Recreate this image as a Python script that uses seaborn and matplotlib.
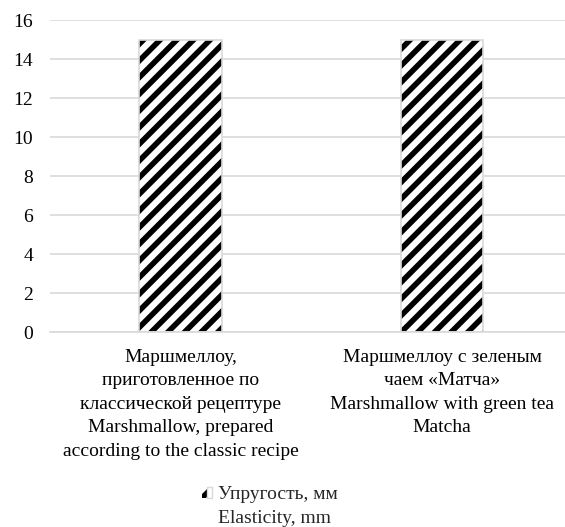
import matplotlib
matplotlib.use("Agg")
import matplotlib.pyplot as plt
from matplotlib.patches import Patch
from matplotlib.legend_handler import HandlerTuple
import seaborn as sns
import pandas as pd

# Data
categories = [
    "Маршмеллоу,\nприготовленное по\nклассической рецептуре\nMarshmallow, prepared\naccording to the classic recipe",
    "Маршмеллоу с зеленым\nчаем «Матча»\nMarshmallow with green tea\nMatcha",
]
elasticity_mm = [15, 15]
series_label = ["Упругость, мм", "Elasticity, mm"]
y_ticks = [0, 2, 4, 6, 8, 10, 12, 14, 16]

df = pd.DataFrame({"category": categories, "value": elasticity_mm})

sns.set_theme(style="white")
plt.rcParams["font.family"] = ["Liberation Serif", "DejaVu Serif"]
plt.rcParams["hatch.linewidth"] = 4.0

FS = 14
GRID = "#d9d9d9"

fig = plt.figure(figsize=(5.65, 5.27), dpi=100)
ax = fig.add_axes([0.0881, 0.370, 0.9257, 0.592])

# hatched fill
sns.barplot(data=df, x="category", y="value", ax=ax, color="white",
            edgecolor="black", linewidth=0, hatch="//", width=0.314,
            errorbar=None, zorder=2)
# light outline around each bar
sns.barplot(data=df, x="category", y="value", ax=ax, fill=False,
            edgecolor=GRID, linewidth=1.2, width=0.314,
            errorbar=None, zorder=3)

ax.set_xlim(-0.5, 1.5)
ax.set_ylim(0, 16)
ax.set_yticks(y_ticks)
ax.yaxis.grid(True, color=GRID, linewidth=1.2, zorder=0)
ax.set_axisbelow(True)
for side in ["left", "right", "top"]:
    ax.spines[side].set_visible(False)
ax.spines["bottom"].set_color(GRID)
ax.spines["bottom"].set_linewidth(1.2)
ax.set_xlabel("")
ax.set_ylabel("")
ax.tick_params(axis="y", length=0, pad=12, labelsize=FS, labelcolor="black")
ax.tick_params(axis="x", length=0, pad=12, labelsize=FS, labelcolor="black")
for lbl in ax.get_xticklabels():
    lbl.set_linespacing(1.5)
    lbl.set_ha("center")

# legend
fill_h = Patch(facecolor="white", edgecolor="black", hatch="//", linewidth=0)
edge_h = Patch(facecolor="none", edgecolor=GRID, linewidth=1.0)
blank = Patch(facecolor="none", edgecolor="none")
fig.legend([(fill_h, edge_h), blank], series_label,
           handler_map={tuple: HandlerTuple(ndivide=None, pad=0)},
           loc="upper left", bbox_to_anchor=(202 / 565, 1 - 486 / 527),
           frameon=False, fontsize=FS, handlelength=0.5, handleheight=0.5,
           handletextpad=0.3, borderpad=0, borderaxespad=0,
           labelspacing=0.36)

fig.savefig("out.png", dpi=100)
